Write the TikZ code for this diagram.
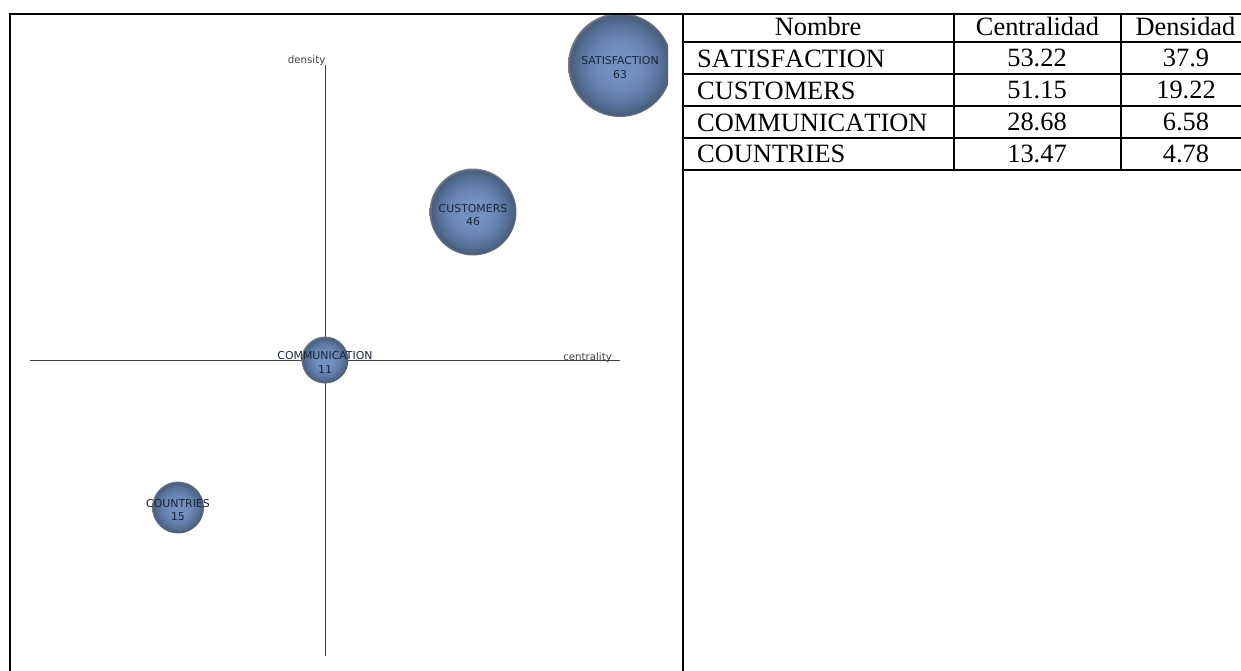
\documentclass[tikz,border=0pt]{standalone}
\usepackage{fontspec}
\setmainfont[Kerning=Off]{Liberation Serif}
\newfontfamily\mapfont{DejaVu Sans}
\usepackage{tikz}
\usetikzlibrary{positioning}

\definecolor{bubblemid}{HTML}{7391BF}
\definecolor{bubblelow}{HTML}{6784B1}
\definecolor{bubbleshadow}{HTML}{566F96}
\definecolor{bubbledark}{HTML}{4A5D7C}
\definecolor{bubbleedge}{HTML}{7A808A}
\definecolor{axisgray}{HTML}{404040}
\definecolor{maptext}{HTML}{1C2538}

\pgfdeclareradialshading{bubbleshade}{\pgfpoint{0bp}{0bp}}{
	color(0bp)=(bubblemid);
	color(7bp)=(bubblemid);
	color(14bp)=(bubblelow);
	color(20bp)=(bubbleshadow);
	color(24bp)=(bubbledark);
	color(25bp)=(bubbleedge);
	color(50bp)=(bubbleedge)}

\tikzset{
	bubble/.style={circle, inner sep=0pt, shading=bubbleshade, minimum size=#1},
	maplabel/.style={font=\mapfont\fontsize{10.9}{13.3}\selectfont, text=maptext, align=center, inner sep=0pt},
	axislabel/.style={font=\mapfont\fontsize{10.2}{12}\selectfont, text=black!75, inner sep=0pt},
	cell/.style={font=\fontsize{26.4}{28}\selectfont, inner sep=0pt, anchor=base},
	namecell/.style={cell, anchor=base west},
	rule/.style={line width=2pt, black}
}

\begin{document}
\begin{tikzpicture}[x=1pt,y=-1pt]
	\useasboundingbox (0,0) rectangle (1241,671);

	%Table columns
	\pgfmathsetmacro{\xl}{683}
	\pgfmathsetmacro{\xa}{954}
	\pgfmathsetmacro{\xb}{1121}
	\pgfmathsetmacro{\xr}{1241}

	%The axes
	\coordinate (west) at (30,360);
	\coordinate (east) at (620,360);
	\coordinate (north) at (325,65);
	\coordinate (south) at (325,656);
	\draw[axisgray, line width=1pt] (west) -- (east);
	\draw[axisgray, line width=1pt] (north) -- (south);
	\node[axislabel, anchor=base east] (densitylabel) at (325.5,64) {density};
	\node[axislabel, anchor=base east] (centralitylabel) at (612,360) {centrality};

	%The clusters
	\begin{scope}
		\clip (10,14) rectangle (668,671);
		\node[bubble=104pt] (satisfaction) at (620,65) {};
	\end{scope}
	\node[bubble=87pt] (customers) at (473,212) {};
	\node[bubble=47pt] (communication) at (325,360) {};
	\node[bubble=52pt] (countries) at (178,507.5) {};

	\node[maplabel] (satisfactionlabel) at (620,67.5) {SATISFACTION\\63};
	\node[maplabel] (customerslabel) at (473,215) {CUSTOMERS\\46};
	\node[maplabel] (communicationlabel) at (325,362.5) {COMMUNICATION\\11};
	\node[maplabel] (countrieslabel) at (178,510) {COUNTRIES\\15};

	%Frame and table rules
	\coordinate (framenw) at (10,14);
	\coordinate (framesw) at (10,671);
	\coordinate (framene) at (\xr,14);
	\draw[rule] (framesw) -- (framenw) -- (framene);
	\draw[rule] (\xl,14) -- (\xl,671);
	\foreach \ypos in {42,74,106,138,170}
		\draw[rule] (\xl,\ypos) -- (\xr,\ypos);
	\draw[rule] (\xa,14) -- (\xa,170);
	\draw[rule] (\xb,14) -- (\xb,170);

	%Header
	\node[cell] (nombre) at (818,36) {Nombre};
	\node[cell] (centralidad) at (1037.5,35.5) {Centralidad};
	\node[cell] (densidad) at (1185.5,35.5) {Densidad};

	%Rows
	\foreach \ypos/\ycell/\rowname/\cen/\den in {
		67.3/66.7/SATISFACTION/53.22/37.9,
		99.3/98.5/CUSTOMERS/51.15/19.22,
		131.3/130.5/COMMUNICATION/28.68/6.58,
		163/162.3/COUNTRIES/13.47/4.78}
	{
		\node[namecell] at (697,\ypos) {\rowname};
		\node[cell] at (1037,\ycell) {\cen};
		\node[cell] at (1186,\ycell) {\den};
	}
\end{tikzpicture}
\end{document}
